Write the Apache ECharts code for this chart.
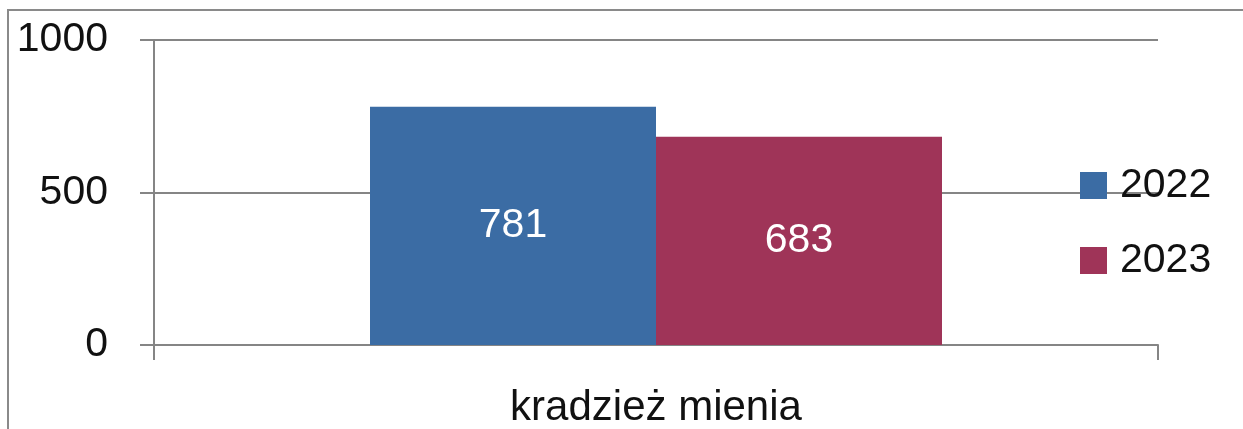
<!DOCTYPE html>
<html>
<head>
<meta charset="utf-8">
<script src="https://cdn.jsdelivr.net/npm/echarts@6/dist/echarts.min.js"></script>
<style>
	html, body { margin: 0; padding: 0; background: #fff; }
	#chart { width: 1243px; height: 429px; }
</style>
</head>
<body>
<div id="chart"></div>
<script>
"use strict";

var categories = ['kradzież mienia'];
var seriesNames = ['2022', '2023'];
var values2022 = [781];
var values2023 = [683];
var yTicks = [0, 500, 1000];

var blueColor = '#3b6ca4';
var redColor = '#9f3458';
var lineColor = '#858585';
var fontName = '"Liberation Sans", Arial, sans-serif';

var myChart = echarts.init(document.getElementById('chart'));

var option = {
	backgroundColor: '#fff',
	animation: false,
	textStyle: { fontFamily: fontName },
	graphic: [{
		type: 'polyline',
		shape: { points: [[8, 429], [8, 10], [1243, 10]] },
		style: { stroke: '#8a8a8a', lineWidth: 2, fill: null }
	}],
	grid: { left: 154, right: 85, top: 40, bottom: 84 },
	legend: {
		orient: 'vertical',
		left: 1080,
		top: 165,
		padding: 0,
		itemWidth: 27,
		itemHeight: 27,
		itemGap: 34,
		icon: 'rect',
		textStyle: { fontSize: 41, color: '#111', fontFamily: fontName, padding: [0, 0, 0, 8] },
		data: seriesNames
	},
	xAxis: {
		type: 'category',
		data: categories,
		axisLine: { lineStyle: { color: lineColor, width: 2 } },
		axisTick: { show: true, length: 15, lineStyle: { color: lineColor, width: 2 } },
		axisLabel: { fontSize: 42, color: '#111', margin: 42 }
	},
	yAxis: {
		type: 'value',
		min: yTicks[0],
		max: yTicks[yTicks.length - 1],
		interval: yTicks[1] - yTicks[0],
		axisLine: { show: true, lineStyle: { color: lineColor, width: 2 } },
		axisTick: { show: true, length: 14, lineStyle: { color: lineColor, width: 2 } },
		axisLabel: {
			fontSize: 41,
			color: '#111',
			margin: 46,
			formatter: function(v) { return String(v); }
		},
		splitLine: { show: true, lineStyle: { color: lineColor, width: 2 } }
	},
	series: [{
		name: seriesNames[0],
		type: 'bar',
		data: values2022,
		barWidth: 286,
		barGap: '0%',
		itemStyle: { color: blueColor },
		label: { show: true, position: 'inside', color: '#fff', fontSize: 41, fontFamily: fontName }
	}, {
		name: seriesNames[1],
		type: 'bar',
		data: values2023,
		barWidth: 286,
		barGap: '0%',
		itemStyle: { color: redColor },
		label: { show: true, position: 'inside', color: '#fff', fontSize: 41, fontFamily: fontName }
	}]
};

myChart.setOption(option);
</script>
</body>
</html>
